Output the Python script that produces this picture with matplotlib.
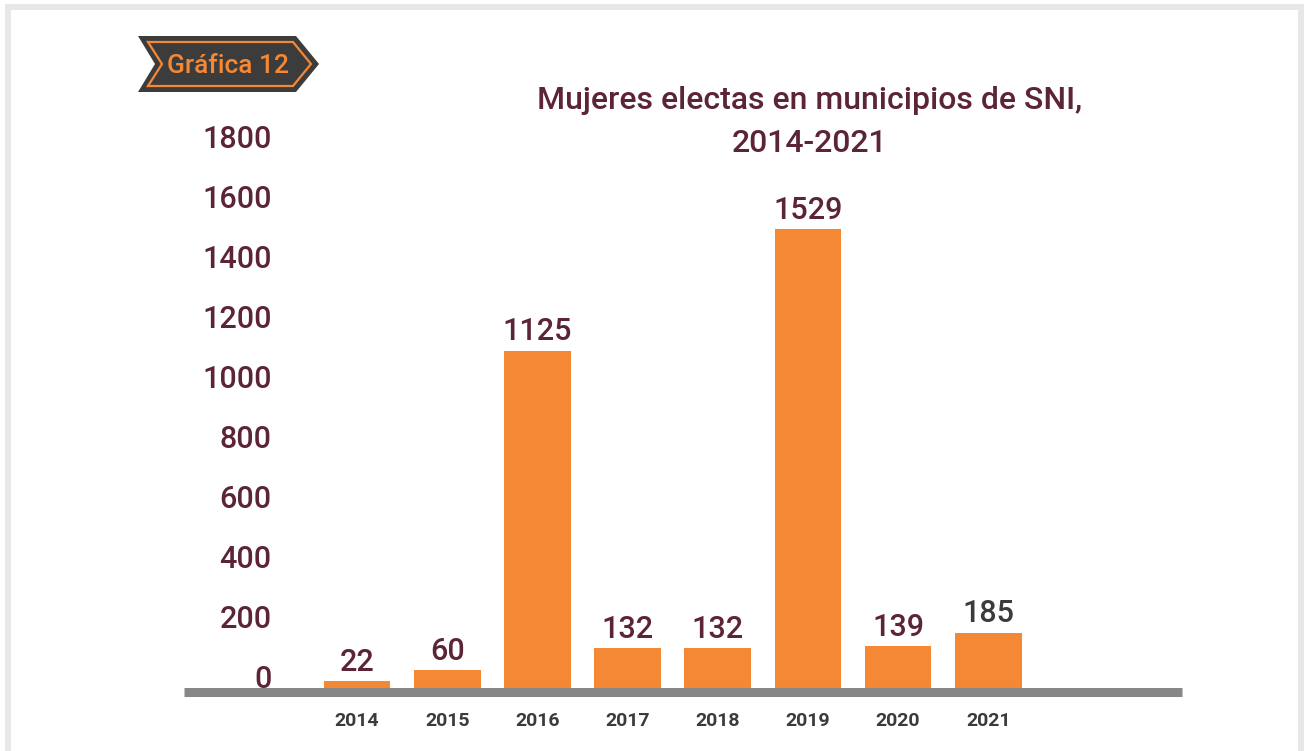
import matplotlib.pyplot as plt
from matplotlib.patches import Polygon, Rectangle

years = ["2014", "2015", "2016", "2017", "2018", "2019", "2020", "2021"]
mujeres = [22, 60, 1125, 132, 132, 1529, 139, 185]
label_colors = ["#5c2438"] * 7 + ["#3b3b3b"]
yticks = [0, 200, 400, 600, 800, 1000, 1200, 1400, 1600, 1800]

MAROON = "#5c2438"
ORANGE = "#f48834"
FONT = ["Roboto", "DejaVu Sans"]

W, H = 1305, 751


def fx(px):
    return px / W


def fy(py):
    return 1 - py / H


fig = plt.figure(figsize=(13.05, 7.51), dpi=100)

# light frame around the chart
for x0, y0, w, h in [(5, 4, 1299, 6), (5, 4, 6, 747), (1298, 4, 6, 747)]:
    fig.patches.append(Rectangle((fx(x0), fy(y0 + h)), w / W, h / H,
                                 transform=fig.transFigure, color="#e6e7e9", lw=0))

# axes: baseline at y=688px, 0.3 px per unit
ymax = 1900
ax = fig.add_axes([fx(184), fy(688), (1182 - 184) / W, ymax * 0.3 / H])

for s in ["top", "right", "left"]:
    ax.spines[s].set_visible(False)
ax.spines["bottom"].set_position(("outward", 3.2))
ax.spines["bottom"].set_color("#878787")
ax.spines["bottom"].set_linewidth(6.5)
ax.spines["bottom"].set_capstyle("butt")

xs = list(range(len(years)))
ax.bar(xs, mujeres, width=0.74, color=ORANGE, zorder=2)
ax.set_xlim(-1.92, 9.15)
ax.set_ylim(0, ymax)

for x, v, c in zip(xs, mujeres, label_colors):
    ax.annotate(str(v), (x, v), xytext=(0, 3), textcoords="offset points",
                ha="center", va="bottom", fontsize=22, fontweight="medium",
                color=c, family=FONT)

ax.set_xticks(xs)
ax.set_xticklabels(years, fontsize=14, fontweight="bold", color="#3b3b3b", family=FONT)
ax.set_yticks(yticks)
ax.set_yticklabels([str(t) for t in yticks], fontsize=22, fontweight="medium",
                   color=MAROON, family=FONT)
ax.tick_params(axis="x", length=0, pad=14)
ax.tick_params(axis="y", length=0, pad=-63)
for lbl in ax.get_yticklabels():
    lbl.set_horizontalalignment("right")
    lbl.set_verticalalignment("baseline")

fig.text(fx(810), fy(122), "Mujeres electas en municipios de SNI,\n2014-2021",
         ha="center", va="center", fontsize=23, fontweight="medium", color=MAROON,
         family=FONT, linespacing=1.6)

# "Gráfica 12" arrow badge
outer = [(138, 36), (296, 36), (319, 64), (296, 92), (138, 92), (155, 64)]
inner = [(148, 42), (293, 42), (311, 64), (293, 86), (148, 86), (162, 64)]
fig.patches.append(Polygon([(fx(a), fy(b)) for a, b in outer], closed=True,
                           transform=fig.transFigure, fc="#3c3c3c", ec="none"))
fig.patches.append(Polygon([(fx(a), fy(b)) for a, b in inner], closed=True,
                           transform=fig.transFigure, fc="none", ec=ORANGE, lw=1.6))
fig.text(fx(228), fy(66), "Gráfica 12", ha="center", va="center", fontsize=19,
         fontweight="medium", color=ORANGE, family=FONT)

fig.savefig("out.png", dpi=100)
